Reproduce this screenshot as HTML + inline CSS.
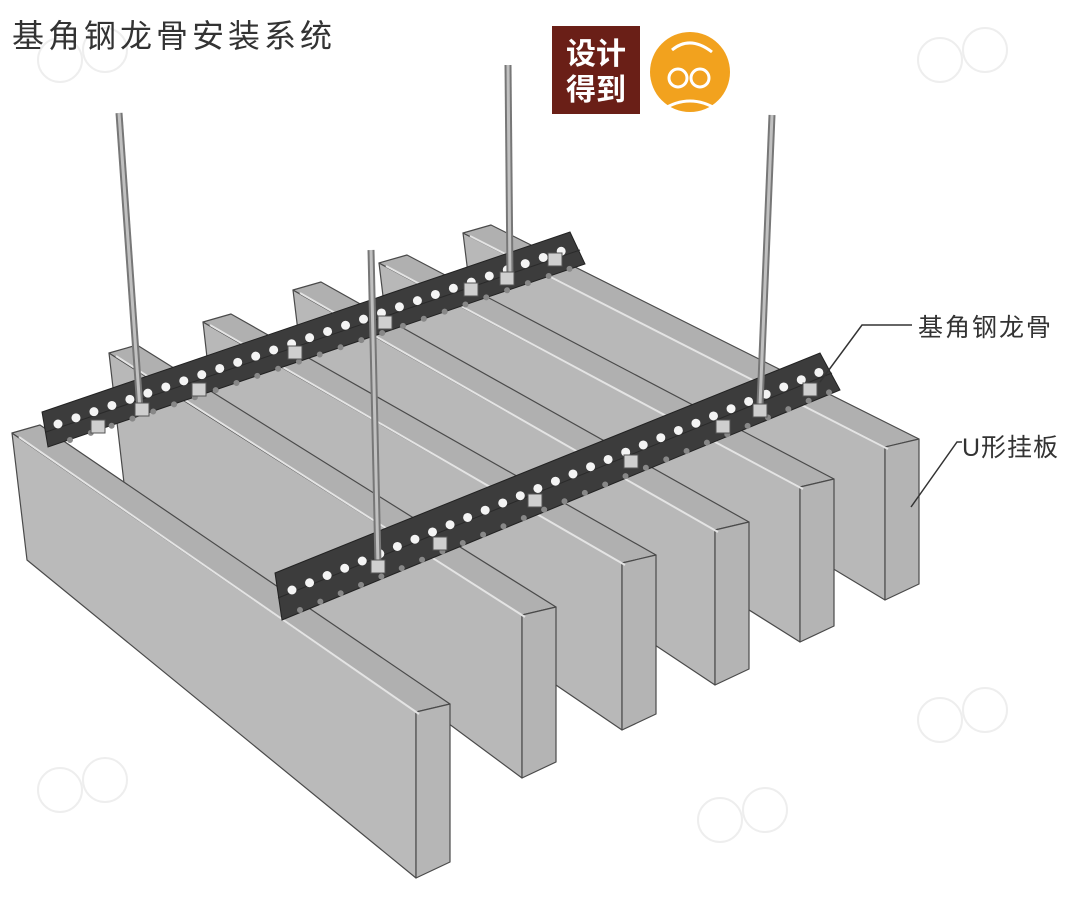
<!DOCTYPE html>
<html><head><meta charset="utf-8"><style>
html,body{margin:0;padding:0;background:#fff;}
svg{display:block;}
text{font-family:"Liberation Sans","Noto Sans CJK SC",sans-serif;}
</style></head><body>
<svg width="1080" height="902" viewBox="0 0 1080 902" xmlns="http://www.w3.org/2000/svg">
<rect width="1080" height="902" fill="#fff"/>
<g fill="none" stroke="#eeeeee" stroke-width="2">
<circle cx="60" cy="60" r="22"/><circle cx="105" cy="50" r="22"/>
<circle cx="940" cy="60" r="22"/><circle cx="985" cy="50" r="22"/>
<circle cx="940" cy="720" r="22"/><circle cx="985" cy="710" r="22"/>
<circle cx="60" cy="790" r="22"/><circle cx="105" cy="780" r="22"/>
<circle cx="720" cy="820" r="22"/><circle cx="765" cy="810" r="22"/>
</g>

<g stroke="#4a4a4a" stroke-width="1.2" stroke-linejoin="round">
<polygon points="463,233 885,447 885,600 478,355" fill="#b8b8b8"/>
<polygon points="463,233 885,447 919,439 491,225" fill="#b0b0b0"/>
<polygon points="885,447 919,439 919,584 885,600" fill="#b4b4b4"/>
<line x1="470" y1="236" x2="888" y2="449" stroke="#e4e4e4" stroke-width="2"/>
<polygon points="379,263 800,487 800,642 394,387" fill="#b8b8b8"/>
<polygon points="379,263 800,487 834,479 407,255" fill="#b0b0b0"/>
<polygon points="800,487 834,479 834,626 800,642" fill="#b4b4b4"/>
<line x1="386" y1="266" x2="803" y2="489" stroke="#e4e4e4" stroke-width="2"/>
<polygon points="293,290 715,530 715,685 308,414" fill="#b8b8b8"/>
<polygon points="293,290 715,530 749,522 321,282" fill="#b0b0b0"/>
<polygon points="715,530 749,522 749,669 715,685" fill="#b4b4b4"/>
<line x1="300" y1="293" x2="718" y2="532" stroke="#e4e4e4" stroke-width="2"/>
<polygon points="203,322 622,563 622,730 218,455" fill="#b8b8b8"/>
<polygon points="203,322 622,563 656,555 231,314" fill="#b0b0b0"/>
<polygon points="622,563 656,555 656,714 622,730" fill="#b4b4b4"/>
<line x1="210" y1="325" x2="625" y2="565" stroke="#e4e4e4" stroke-width="2"/>
<polygon points="109,353 522,615 522,778 124,483" fill="#b8b8b8"/>
<polygon points="109,353 522,615 556,607 137,345" fill="#b0b0b0"/>
<polygon points="522,615 556,607 556,762 522,778" fill="#b4b4b4"/>
<line x1="116" y1="356" x2="525" y2="617" stroke="#e4e4e4" stroke-width="2"/>
<polygon points="12,433 416,712 416,878 27,560" fill="#bababa"/>
<polygon points="12,433 416,712 450,704 40,425" fill="#b0b0b0"/>
<polygon points="416,712 450,704 450,862 416,878" fill="#b6b6b6"/>
<line x1="19" y1="437" x2="419" y2="714" stroke="#e4e4e4" stroke-width="2"/>
</g>

<polygon points="42,412 570,232 585,264 48,447" fill="#3c3c3c" stroke="#222" stroke-width="1"/>
<line x1="46" y1="432" x2="580" y2="250" stroke="#2a2a2a" stroke-width="1"/>
<line x1="58" y1="424" x2="562" y2="251" stroke="#f4f4f4" stroke-width="9" stroke-linecap="round" stroke-dasharray="0 19"/>
<line x1="70" y1="440" x2="575" y2="267" stroke="#888" stroke-width="6" stroke-linecap="round" stroke-dasharray="0 22"/>
<polygon points="275,573 820,353 840,390 282,620" fill="#3c3c3c" stroke="#222" stroke-width="1"/>
<line x1="278" y1="598" x2="832" y2="373" stroke="#2a2a2a" stroke-width="1"/>
<line x1="292" y1="590" x2="820" y2="372" stroke="#f4f4f4" stroke-width="9" stroke-linecap="round" stroke-dasharray="0 19"/>
<line x1="300" y1="610" x2="830" y2="392" stroke="#888" stroke-width="6" stroke-linecap="round" stroke-dasharray="0 22"/>

<g stroke-linecap="butt">
<line x1="119" y1="113" x2="140" y2="410" stroke="#777" stroke-width="7"/>
<line x1="119" y1="113" x2="140" y2="410" stroke="#c0c0c0" stroke-width="3"/>
<line x1="508" y1="65" x2="510" y2="278" stroke="#777" stroke-width="7"/>
<line x1="508" y1="65" x2="510" y2="278" stroke="#c0c0c0" stroke-width="3"/>
<line x1="371" y1="250" x2="378" y2="565" stroke="#777" stroke-width="7"/>
<line x1="371" y1="250" x2="378" y2="565" stroke="#c0c0c0" stroke-width="3"/>
<line x1="772" y1="115" x2="760" y2="405" stroke="#777" stroke-width="7"/>
<line x1="772" y1="115" x2="760" y2="405" stroke="#c0c0c0" stroke-width="3"/>
</g>

<g fill="#cfcfcf" stroke="#555" stroke-width="1">
<rect x="91" y="420" width="14" height="13"/>
<rect x="135" y="403" width="14" height="13"/>
<rect x="192" y="383" width="14" height="13"/>
<rect x="288" y="346" width="14" height="13"/>
<rect x="378" y="316" width="14" height="13"/>
<rect x="464" y="283" width="14" height="13"/>
<rect x="500" y="272" width="14" height="13"/>
<rect x="548" y="253" width="14" height="13"/>
<rect x="371" y="560" width="14" height="13"/>
<rect x="433" y="537" width="14" height="13"/>
<rect x="528" y="494" width="14" height="13"/>
<rect x="624" y="455" width="14" height="13"/>
<rect x="716" y="420" width="14" height="13"/>
<rect x="753" y="404" width="14" height="13"/>
<rect x="803" y="383" width="14" height="13"/>
</g>

<text x="12" y="47" font-size="32" fill="#333" letter-spacing="4">基角钢龙骨安装系统</text>

<rect x="552" y="26" width="88" height="88" fill="#6a1f17"/>
<text x="596" y="64" font-size="30" font-weight="bold" fill="#fff" text-anchor="middle">设计</text>
<text x="596" y="100" font-size="30" font-weight="bold" fill="#fff" text-anchor="middle">得到</text>
<circle cx="690" cy="72" r="40" fill="#f2a21e"/>
<circle cx="678" cy="78" r="9" fill="none" stroke="#fff" stroke-width="3"/>
<circle cx="700" cy="78" r="9" fill="none" stroke="#fff" stroke-width="3"/>
<path d="M672 50 Q690 35 712 52" fill="none" stroke="#fff" stroke-width="3"/>
<path d="M662 110 Q690 92 718 110" fill="none" stroke="#fff" stroke-width="3"/>

<polyline points="912,325 862,325 820,382" fill="none" stroke="#333" stroke-width="1.5"/>
<text x="918" y="336" font-size="25" fill="#333" letter-spacing="2">基角钢龙骨</text>
<polyline points="962,442 957,442 911,507" fill="none" stroke="#333" stroke-width="1.5"/>
<text x="962" y="456" font-size="25" fill="#333" letter-spacing="1">U形挂板</text>
</svg>
</body></html>
